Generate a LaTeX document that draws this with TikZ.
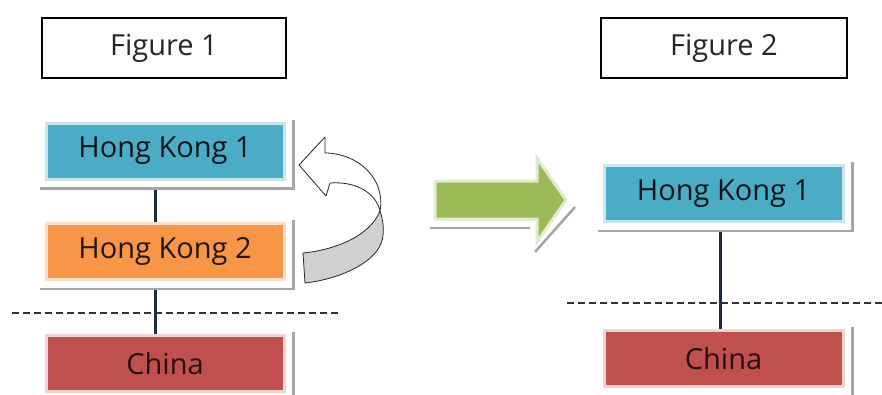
\documentclass[tikz,border=0pt]{standalone}
\usepackage{fontspec}
\setmainfont{Open Sans}
\definecolor{hkblue}{HTML}{4BACC6}
\definecolor{hkorange}{HTML}{F79646}
\definecolor{cnred}{HTML}{C0504D}
\definecolor{arrgreen}{HTML}{9BBB59}
\definecolor{linenavy}{HTML}{1F2A44}
\definecolor{shadowgrey}{HTML}{A6A6A6}
\definecolor{bandgrey}{HTML}{D0D0D0}
\begin{document}
\begin{tikzpicture}[x=1pt,y=-1pt,
  lbl/.style={font=\fontsize{29}{34}\selectfont},
  titlebox/.style={draw=black, line width=1.2pt, fill=white, minimum width=244pt, minimum height=60pt, inner sep=0pt, lbl, text=black!85},
  regionbox/.style={minimum width=238pt, minimum height=56pt, inner sep=0pt, lbl, line width=3pt},
  shadowline/.style={draw=shadowgrey, line width=2.5pt},
  link/.style={draw=linenavy, line width=3pt},
  border/.style={draw=black!80, dash pattern=on 7pt off 4pt, line width=1.4pt},
  twist/.style={draw=black!85, line width=0.8pt, line join=round},
]
\useasboundingbox (0,0) rectangle (882,394);
\fill[white] (0,0) rectangle (882,394);

% titles
\node[titlebox] (t1) at (164,48) {Figure 1};
\node[titlebox, minimum width=246pt] (t2) at (724,48) {Figure 2};

% figure 1 boxes
\node[regionbox, fill=hkblue, draw=hkblue!30, text=black!80!hkblue!60!black] (hkA) at (165,151) {Hong Kong 1};
\node[regionbox, fill=hkorange, draw=hkorange!30, text=black!85!hkorange] (hkB) at (165,251.5) {Hong Kong 2};
\node[regionbox, fill=cnred, draw=cnred!25, text=black!80!cnred] (cnA) at (165,363.5) {China};

% figure 2 boxes
\node[regionbox, fill=hkblue, draw=hkblue!30, text=black!80!hkblue!60!black, minimum width=239pt] (hkC) at (723.5,193.5) {Hong Kong 1};
\node[regionbox, fill=cnred, draw=cnred!25, text=black!80!cnred, minimum width=239pt] (cnB) at (723.5,358.5) {China};

% shadows
\foreach \n in {hkA,hkB,cnA,hkC,cnB}{
  \draw[shadowline] ([xshift=-5pt,yshift=-8pt]\n.south west) -- ([xshift=8pt,yshift=-8pt]\n.south east) -- ([xshift=8pt,yshift=2pt]\n.north east);
}

% borders
\coordinate (dLa) at (12,313);
\coordinate (dLb) at (340,313);
\coordinate (dRa) at (567,303);
\coordinate (dRb) at (882,303);
\draw[border] (dLa) -- (dLb);
\draw[border] (dRa) -- (dRb);

% connectors
\draw[link] ([xshift=-10pt,yshift=-9pt]hkA.south) -- ([xshift=-10pt]hkB.north);
\draw[link] ([xshift=-10pt,yshift=-9pt]hkB.south) -- ([xshift=-10pt]cnA.north);
\draw[link] ([xshift=-3.5pt,yshift=-9pt]hkC.south) -- ([xshift=-3.5pt]cnB.north);

% twisted swap arrow
\draw[twist, fill=bandgrey] (380,211) .. controls (385,226) and (385,241) .. (376,252)
   .. controls (362,269) and (332,280) .. (305,283) -- (303,253)
   .. controls (335,250) and (370,236) .. (380,211) -- cycle;
\draw[twist, fill=white] (380,211) .. controls (376,193) and (356,181) .. (330,183)
   -- (326,196) -- (299,165) -- (325,137) -- (325,153)
   .. controls (357,153) and (386,178) .. (380,211) -- cycle;

% big green arrow
\draw[shadowline] (430,228) -- (530,228);
\draw[shadowline] (575,207) -- (535,252);
\draw[fill=arrgreen, draw=arrgreen!30, line width=3pt, line join=miter]
  (435,181) -- (537,181) -- (537,158) -- (566,200) -- (537,242) -- (537,219) -- (435,219) -- cycle;
\end{tikzpicture}
\end{document}
